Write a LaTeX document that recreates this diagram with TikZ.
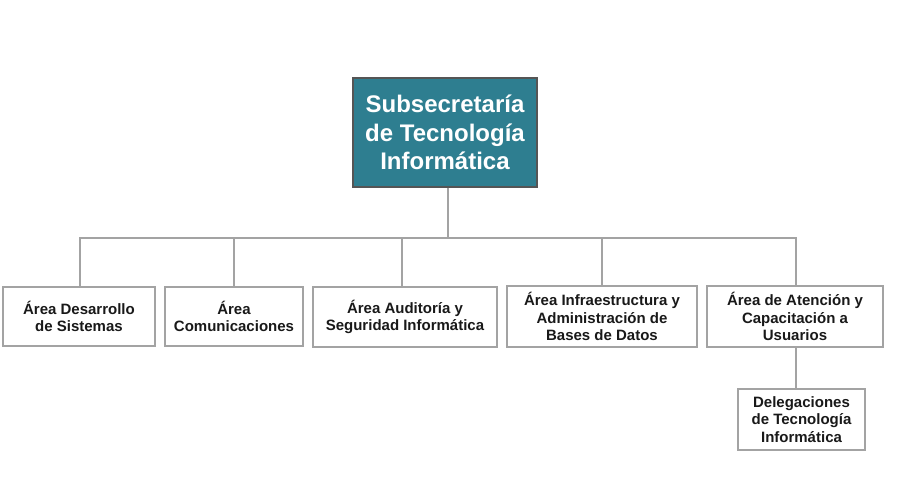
\documentclass[tikz,border=0pt]{standalone}
\usepackage{fontspec}
\setmainfont{Liberation Sans}
\definecolor{tealbox}{HTML}{2E7E90}
\definecolor{boxline}{HTML}{A3A3A3}
\definecolor{topline}{HTML}{555555}

\begin{document}
\begin{tikzpicture}[x=1pt,y=-1pt,
        area/.style={draw=boxline, line width=1.6pt, fill=white, align=center, text=black!90,
            inner sep=2pt, font=\bfseries\fontsize{15}{17.5}\selectfont},
        jefe/.style={draw=topline, line width=1.2pt, fill=tealbox, text=white, align=center,
            minimum width=184pt, minimum height=109pt, font=\bfseries\fontsize{24}{28.5}\selectfont},
        enlace/.style={draw=boxline, line width=1.8pt}]
    \useasboundingbox (0,0) rectangle (900,500);
    \node[jefe] (sub) at (445,132.5) {Subsecretaría\\de Tecnología\\Informática};
    \coordinate (bus) at (448,238);

    \node[area, minimum width=152pt, minimum height=59pt] (des) at (79,316.5) {Área Desarrollo\\de Sistemas};
    \node[area, minimum width=138pt, minimum height=59pt] (com) at (234,316.5) {Área\\Comunicaciones};
    \node[area, minimum width=184pt, minimum height=60pt] (aud) at (405,317) {Área Auditoría y\\Seguridad Informática};
    \node[area, minimum width=190pt, minimum height=61pt] (inf) at (602,316.5) {Área Infraestructura y\\Administración de\\Bases de Datos};
    \node[area, minimum width=176pt, minimum height=61pt] (ate) at (795,316.5) {Área de Atención y\\Capacitación a\\Usuarios};
    \node[area, minimum width=127pt, minimum height=61pt] (del) at (801.5,419.5) {Delegaciones\\de Tecnología\\Informática};

    %% lineas
    \draw[enlace] (sub.south -| bus) -- (bus);
    \draw[enlace] ([xshift=1pt]des.north) |- ([xshift=1pt]ate.north |- bus) -- ([xshift=1pt]ate.north);
    \draw[enlace] (com.north) -- (com.north |- bus);
    \draw[enlace] ([xshift=-3pt]aud.north) -- ([xshift=-3pt]aud.north |- bus);
    \draw[enlace] (inf.north) -- (inf.north |- bus);
    \draw[enlace] ([xshift=1pt]ate.south) -- ([xshift=1pt]ate.south |- del.north);
\end{tikzpicture}
\end{document}
